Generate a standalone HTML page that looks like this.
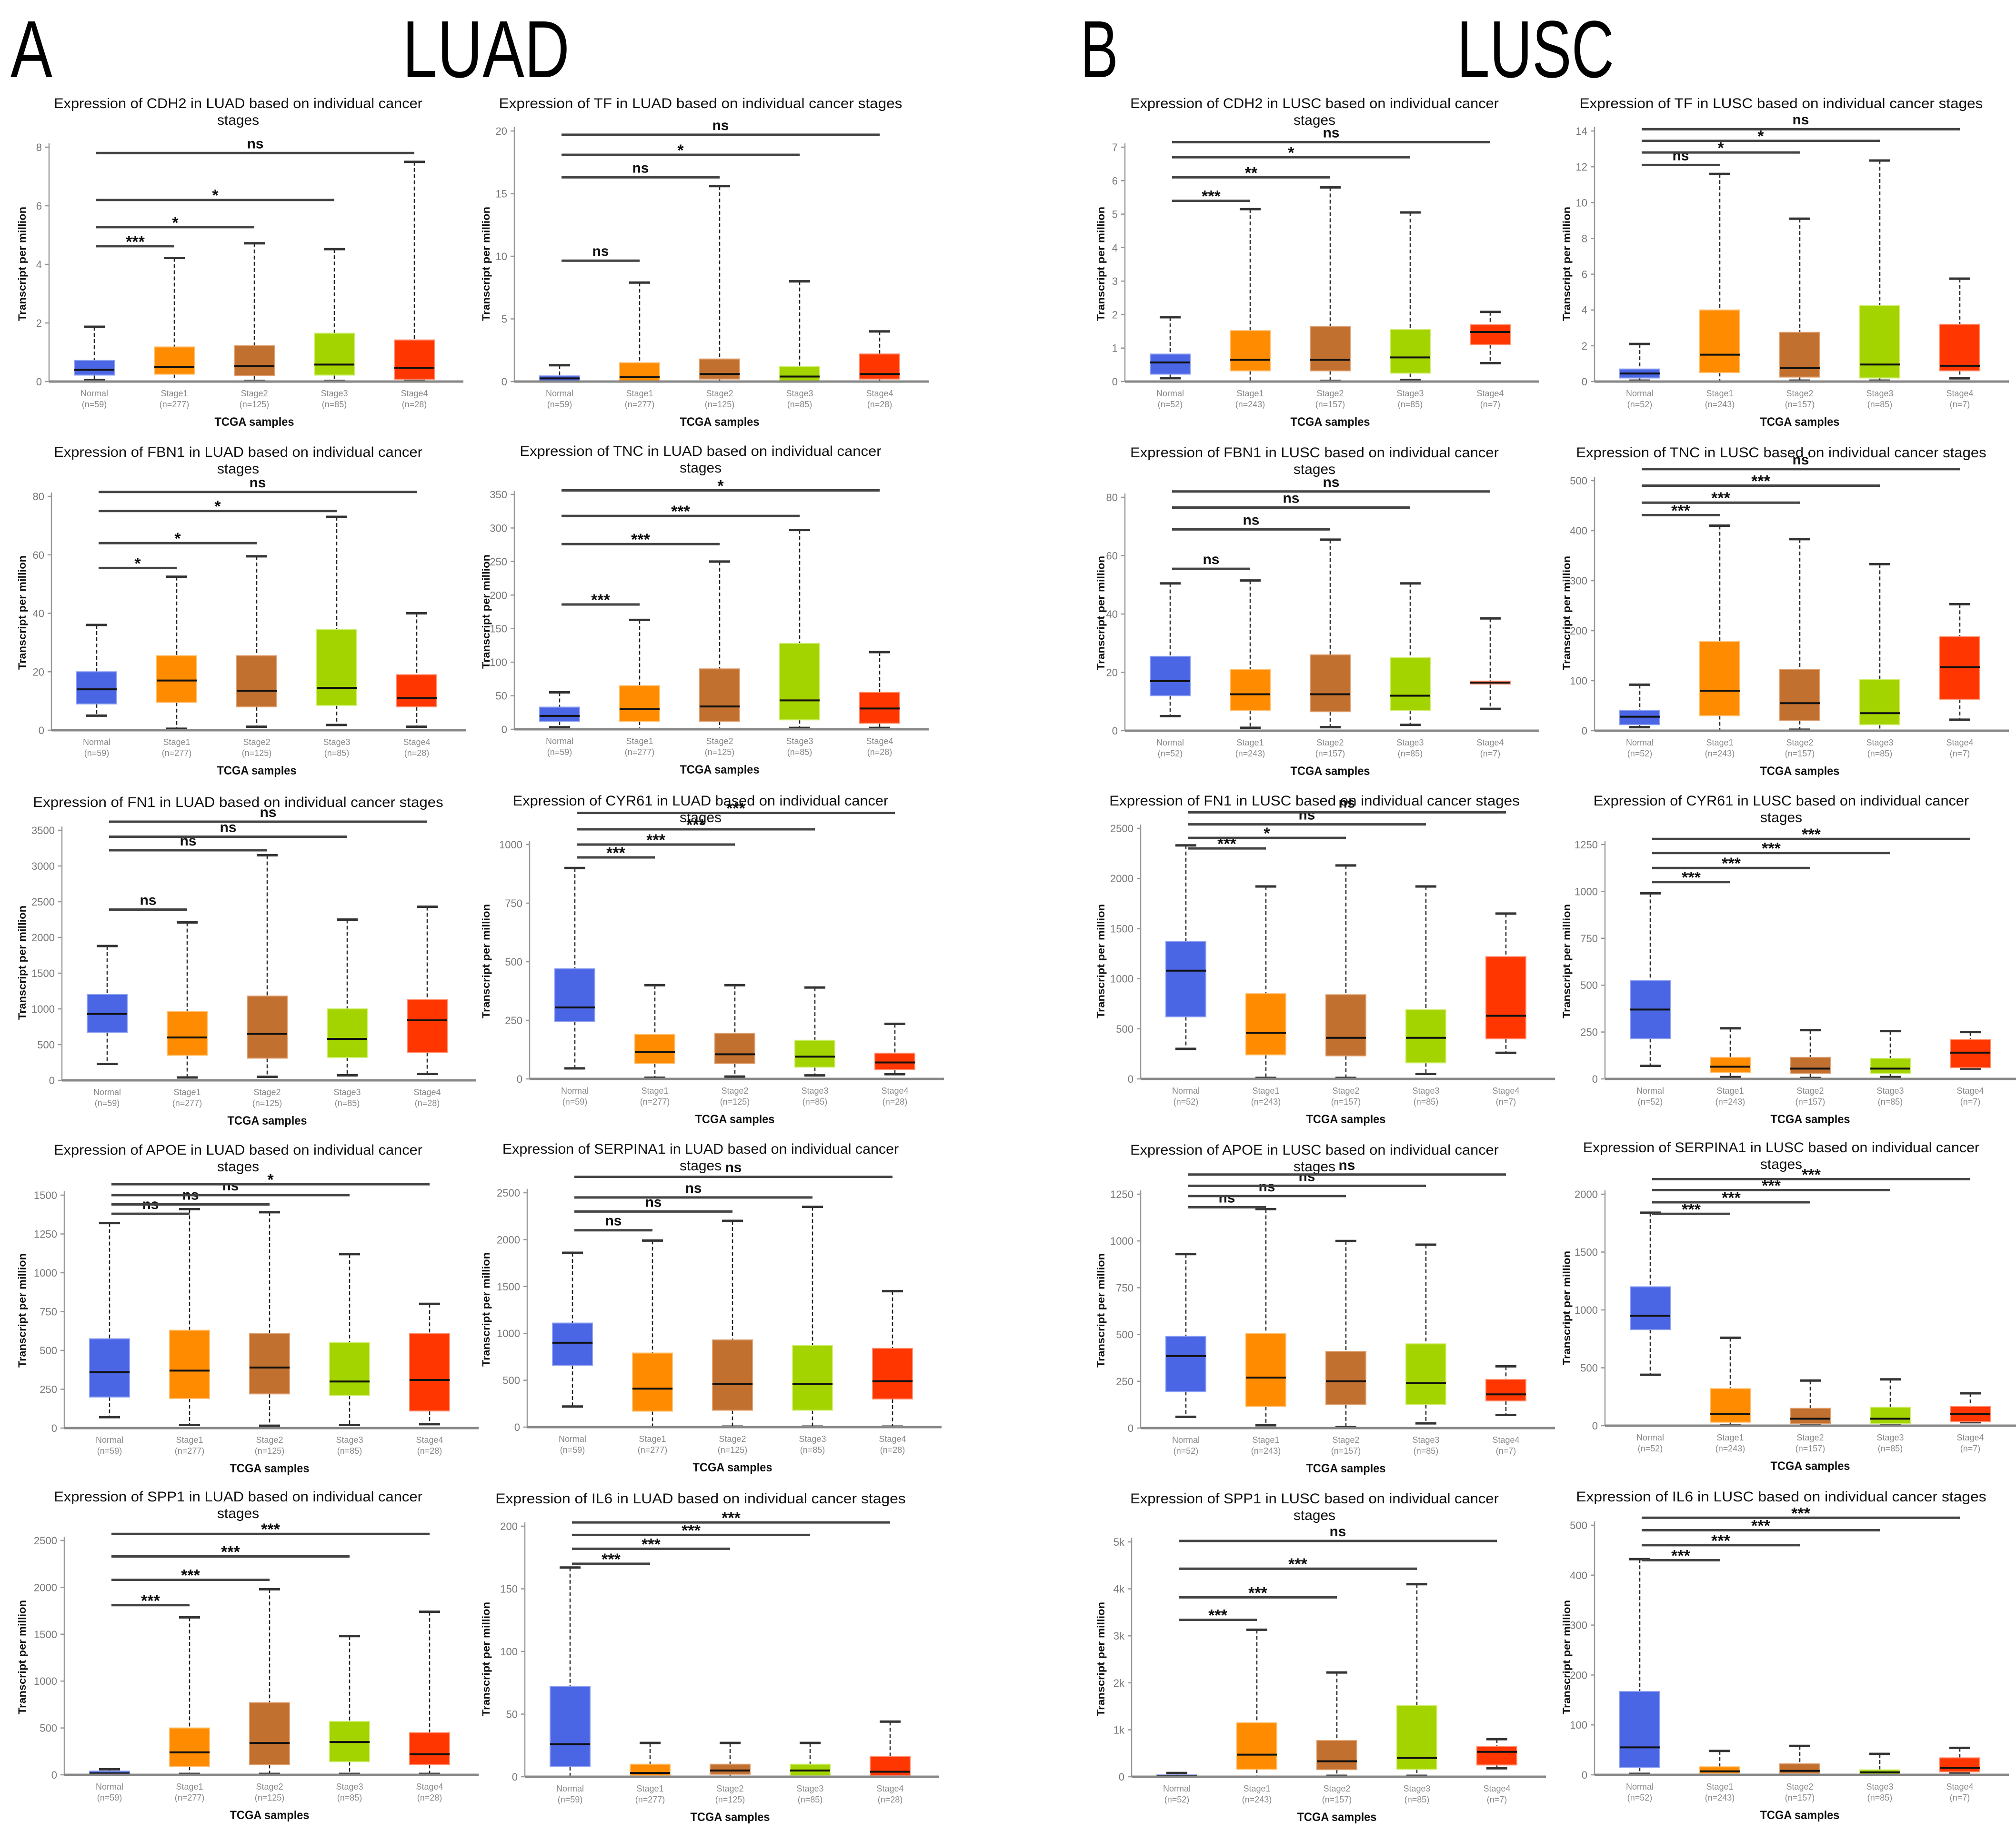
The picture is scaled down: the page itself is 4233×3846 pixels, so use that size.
<!DOCTYPE html>
<html><head><meta charset="utf-8"><style>
html,body{margin:0;padding:0;background:#fff;}
svg{display:block;font-family:"Liberation Sans",sans-serif;}
</style></head><body>
<svg id="fig" xmlns="http://www.w3.org/2000/svg" width="4233" height="3846" viewBox="0 0 4233 3846">
<rect width="4233" height="3846" fill="#fff"/>
<text x="22" y="162" font-size="170" textLength="88" lengthAdjust="spacingAndGlyphs">A</text>
<text x="845" y="162" font-size="170" textLength="351" lengthAdjust="spacingAndGlyphs">LUAD</text>
<text x="2268" y="162" font-size="170" textLength="80" lengthAdjust="spacingAndGlyphs">B</text>
<text x="3059" y="162" font-size="170" textLength="330" lengthAdjust="spacingAndGlyphs">LUSC</text>
</svg>
<script>
const titleLine1 = [
"Expression of CDH2 in LUAD based on individual cancer","Expression of TF in LUAD based on individual cancer stages","Expression of CDH2 in LUSC based on individual cancer","Expression of TF in LUSC based on individual cancer stages",
"Expression of FBN1 in LUAD based on individual cancer","Expression of TNC in LUAD based on individual cancer","Expression of FBN1 in LUSC based on individual cancer","Expression of TNC in LUSC based on individual cancer stages",
"Expression of FN1 in LUAD based on individual cancer stages","Expression of CYR61 in LUAD based on individual cancer","Expression of FN1 in LUSC based on individual cancer stages","Expression of CYR61 in LUSC based on individual cancer",
"Expression of APOE in LUAD based on individual cancer","Expression of SERPINA1 in LUAD based on individual cancer","Expression of APOE in LUSC based on individual cancer","Expression of SERPINA1 in LUSC based on individual cancer",
"Expression of SPP1 in LUAD based on individual cancer","Expression of IL6 in LUAD based on individual cancer stages","Expression of SPP1 in LUSC based on individual cancer","Expression of IL6 in LUSC based on individual cancer stages"];
const titleHasStages = [1,0,1,0, 1,1,1,0, 0,1,0,1, 1,1,1,1, 1,0,1,0];
const categories = ["Normal","Stage1","Stage2","Stage3","Stage4"];
const luadCounts = ["(n=59)","(n=277)","(n=125)","(n=85)","(n=28)"];
const luscCounts = ["(n=52)","(n=243)","(n=157)","(n=85)","(n=7)"];
const tickLabels = [
["0","2","4","6","8"],["0","5","10","15","20"],["0","1","2","3","4","5","6","7"],["0","2","4","6","8","10","12","14"],
["0","20","40","60","80"],["0","50","100","150","200","250","300","350"],["0","20","40","60","80"],["0","100","200","300","400","500"],
["0","500","1000","1500","2000","2500","3000","3500"],["0","250","500","750","1000"],["0","500","1000","1500","2000","2500"],["0","250","500","750","1000","1250"],
["0","250","500","750","1000","1250","1500"],["0","500","1000","1500","2000","2500"],["0","250","500","750","1000","1250"],["0","500","1000","1500","2000"],
["0","500","1000","1500","2000","2500"],["0","50","100","150","200"],["0","1k","2k","3k","4k","5k"],["0","100","200","300","400","500"]];
const tickValues = [
[0,2,4,6,8],[0,5,10,15,20],[0,1,2,3,4,5,6,7],[0,2,4,6,8,10,12,14],
[0,20,40,60,80],[0,50,100,150,200,250,300,350],[0,20,40,60,80],[0,100,200,300,400,500],
[0,500,1000,1500,2000,2500,3000,3500],[0,250,500,750,1000],[0,500,1000,1500,2000,2500],[0,250,500,750,1000,1250],
[0,250,500,750,1000,1250,1500],[0,500,1000,1500,2000,2500],[0,250,500,750,1000,1250],[0,500,1000,1500,2000],
[0,500,1000,1500,2000,2500],[0,50,100,150,200],[0,1000,2000,3000,4000,5000],[0,100,200,300,400,500]];
const q1Vals = [
[.22,.25,.2,.22,.08],[.05,.05,.2,.02,.2],[.22,.32,.32,.25,1.1],[.2,.5,.25,.2,.6],
[9,9.5,8,8.5,8],[12,12,12,14,9],[12,7,6.5,7,16],[12,30,20,12,63],
[670,350,310,320,390],[245,65,65,50,40],[620,240,230,160,400],[215,35,30,30,60],
[200,190,220,210,110],[660,170,180,180,300],[195,115,125,125,145],[830,30,20,20,35],
[5,90,110,140,110],[8,1,2,1,1],[0,160,150,160,250],[15,3,3,1,6]];
const medVals = [
[.4,.5,.53,.58,.47],[.25,.35,.6,.4,.6],[.57,.65,.65,.72,1.48],[.45,1.5,.75,.95,.88],
[14,17,13.5,14.5,11],[20,30,34,43,31],[17,12.5,12.5,12,16.5],[28,80,55,35,127],
[930,600,650,580,840],[305,115,105,95,70],[1080,460,410,410,630],[370,65,55,55,140],
[360,370,390,300,310],[900,410,460,460,490],[385,270,250,240,180],[950,100,60,60,100],
[15,240,340,350,220],[26,3,5,5,4],[20,470,330,400,530],[55,7,8,5,14]];
const q3Vals = [
[.72,1.18,1.22,1.65,1.42],[.45,1.5,1.8,1.2,2.2],[.82,1.52,1.65,1.55,1.7],[.7,4,2.75,4.25,3.2],
[20,25.5,25.5,34.5,19],[33,65,90,128,55],[25.5,21,26,25,17],[40,178,122,102,188],
[1200,960,1180,1000,1130],[470,190,195,165,110],[1370,850,840,690,1220],[525,115,115,110,210],
[575,630,610,550,610],[1110,790,930,870,840],[490,505,410,450,260],[1200,320,150,160,165],
[40,500,770,570,450],[72,10,10,10,16],[40,1150,770,1520,640],[167,16,22,10,34]];
const loVals = [
[.05,0,.02,.02,.02],[0,0,0,0,0],[.1,0,.02,.05,.55],[.05,0,.05,.05,.18],
[5,.5,1.2,1.8,1.2],[3,0,0,2,2],[5,1,1.2,2,7.5],[7,0,2,0,22],
[230,40,50,70,90],[45,5,10,15,20],[300,10,10,50,260],[70,10,5,10,55],
[70,20,15,20,25],[220,0,5,5,5],[60,15,5,25,70],[440,5,5,5,30],
[5,10,10,10,10],[0,0,0,0,0],[0,0,20,20,180],[2,1,1,0,3]];
const hiVals = [
[1.87,4.22,4.72,4.52,7.5],[1.3,7.9,15.6,8,4],[1.92,5.15,5.8,5.05,2.08],[2.1,11.6,9.1,12.35,5.75],
[36,52.5,59.5,73,40],[55,163,250,297,115],[50.5,51.5,65.5,50.5,38.5],[92,410,383,333,253],
[1880,2210,3150,2250,2430],[900,400,400,390,235],[2330,1920,2130,1920,1650],[990,270,260,255,250],
[1320,1410,1390,1120,800],[1860,1990,2200,2350,1450],[930,1170,1000,980,330],[1840,760,390,400,280],
[60,1680,1980,1480,1740],[167,27,27,27,44],[80,3130,2220,4100,800],[432,48,58,42,54]];
const sigLabels = [
["***","*","*","ns"],["ns","ns","*","ns"],["***","**","*","ns"],["ns","*","*","ns"],
["*","*","*","ns"],["***","***","***","*"],["ns","ns","ns","ns"],["***","***","***","ns"],
["ns","ns","ns","ns"],["***","***","***","***"],["***","*","ns","ns"],["***","***","***","***"],
["ns","ns","ns","*"],["ns","ns","ns","ns"],["ns","ns","ns","ns"],["***","***","***","***"],
["***","***","***","***"],["***","***","***","***"],["***","***","***","ns"],["***","***","***","***"]];
const sigLevels = [
[4.62,5.27,6.2,7.8],[9.65,16.3,18.1,19.7],[5.4,6.1,6.7,7.15],[12.1,12.8,13.45,14.1],
[55.5,64,75,81.5],[186,276,318,356],[55.5,69,76.5,82],[431,456,490,523],
[2390,3220,3410,3620],[945,1000,1065,1135],[2300,2405,2540,2660],[1050,1125,1205,1280],
[1380,1440,1500,1570],[2100,2300,2450,2670],[1180,1240,1295,1355],[1830,1930,2035,2130],
[1810,2080,2330,2570],[170,182,193,203],[3340,3820,4430,5020],[430,460,490,515]];
// layout (pixels): axis x, zero y, top-tick y per panel
const axisXs = [103,1080,2362,3348, 108,1080,2362,3348, 130,1112,2395,3370, 135,1107,2395,3370, 135,1102,2376,3348];
const zeroYs = [801,801,801,801, 1533,1531,1534,1534, 2268,2265,2265,2265, 2998,2996,2998,2993, 3726,3730,3730,3726];
const topYs  = [309,275,309,275, 1042,1038,1044,1009, 1743,1773,1739,1773, 2509,2504,2507,2507, 3234,3204,3237,3202];
const titleXs = [500,1471,2760,3740];
const yLabelXs = [46,1020,2311,3289];
const boxColors = ["#4a66e5","#ff8c00","#c2702f","#a3d400","#ff3600"];
const boxEdge = ["#8fa0f0","#ffc070","#e0a070","#d0ee70","#ff9070"];

const svg = document.getElementById('fig');
const NS = "http://www.w3.org/2000/svg";
function mk(tag, attrs, parent){
  const e = document.createElementNS(NS, tag);
  for (const k in attrs) e.setAttribute(k, attrs[k]);
  (parent||svg).appendChild(e);
  return e;
}
for (let p = 0; p < 20; p++) {
  const g = mk('g', {});
  
  
  const ax = axisXs[p], zy = zeroYs[p], ty = topYs[p];
  const tv = tickValues[p], topVal = tv[tv.length-1];
  const yS = v => zy - (v/topVal)*(zy-ty);
  const xS = i => ax + 95 + i*168;
  const col = p % 4;
  const isLusc = col >= 2;
  const tx = titleXs[col];
  const t1 = mk('text', {x:tx, y:zy-574, 'font-size':30, 'text-anchor':'middle', fill:'#111', textLength: titleLine1[p].length*14.6, lengthAdjust:'spacingAndGlyphs'}, g);
  t1.textContent = titleLine1[p];
  
  
  if (titleHasStages[p]) {
    const t2 = mk('text', {x:tx, y:zy-539, 'font-size':30, 'text-anchor':'middle', fill:'#111', textLength:88, lengthAdjust:'spacingAndGlyphs'}, g);
    t2.textContent = 'stages';
    
    
  }
  const yl = mk('line', {x1:ax, x2:ax, y1:zy, y2:ty-8, stroke:'#999', 'stroke-width':2.5}, g);
  
  
  tv.forEach((v, k) => {
    const yy = yS(v);
    const tk = mk('line', {x1:ax-8, x2:ax, y1:yy, y2:yy, stroke:'#999', 'stroke-width':2.5}, g);
    
    
    const tl = mk('text', {x:ax-15, y:yy+8, 'font-size':22, 'text-anchor':'end', fill:'#777'}, g);
    tl.textContent = tickLabels[p][k];
    
    
  });
  const ylab = mk('text', {x:0, y:0, 'font-size':22, 'font-weight':'bold', 'text-anchor':'middle', fill:'#111', transform:`translate(${yLabelXs[col]+8},${zy-247}) rotate(-90)`, textLength:240, lengthAdjust:'spacingAndGlyphs'}, g);
  ylab.textContent = 'Transcript per million';
  
  
  for (let i = 0; i < 5; i++) {
    const cx = xS(i);
    const bg = mk('g', {}, g);
    
    
    const yHi = yS(hiVals[p][i]), yLo = yS(loVals[p][i]), yQ3 = yS(q3Vals[p][i]), yQ1 = yS(q1Vals[p][i]), yMed = yS(medVals[p][i]);
    mk('line', {x1:cx, x2:cx, y1:yHi, y2:yQ3, stroke:'#222', 'stroke-width':2.5, 'stroke-dasharray':'8 5'}, bg);
    mk('line', {x1:cx, x2:cx, y1:yQ1, y2:yLo, stroke:'#222', 'stroke-width':2.5, 'stroke-dasharray':'8 5'}, bg);
    mk('line', {x1:cx-22, x2:cx+22, y1:yHi, y2:yHi, stroke:'#333', 'stroke-width':5}, bg);
    mk('line', {x1:cx-22, x2:cx+22, y1:yLo, y2:yLo, stroke:'#333', 'stroke-width':5}, bg);
    mk('rect', {x:cx-42, y:yQ3, width:84, height:Math.max(yQ1-yQ3,2), fill:boxColors[i], stroke:boxEdge[i], 'stroke-width':2}, bg);
    mk('line', {x1:cx-42, x2:cx+42, y1:yMed, y2:yMed, stroke:'#111', 'stroke-width':4}, bg);
    const c1 = mk('text', {x:cx, y:zy+31, 'font-size':18, 'text-anchor':'middle', fill:'#888'}, g);
    c1.textContent = categories[i];
    
    
    const c2 = mk('text', {x:cx, y:zy+54, 'font-size':18, 'text-anchor':'middle', fill:'#888'}, g);
    c2.textContent = (isLusc ? luscCounts : luadCounts)[i];
    
    
  }
  const xl = mk('line', {x1:ax, x2:ax+870, y1:zy, y2:zy, stroke:'#888', 'stroke-width':5}, g);
  
  
  const xt = mk('text', {x:xS(2), y:zy+93, 'font-size':25, 'font-weight':'bold', 'text-anchor':'middle', fill:'#111', textLength:167, lengthAdjust:'spacingAndGlyphs'}, g);
  xt.textContent = 'TCGA samples';
  
  
  for (let s = 0; s < 4; s++) {
    const yy = yS(sigLevels[p][s]);
    const x1 = xS(0) + 4, x2 = xS(s+1);
    const sb = mk('line', {x1:x1, x2:x2, y1:yy, y2:yy, stroke:'#444', 'stroke-width':5}, g);
    
    
    const lab = sigLabels[p][s];
    const sl = mk('text', {x:(x1+x2)/2, y: lab === 'ns' ? yy-10 : yy+2, 'font-size': lab === 'ns' ? 30 : 34, 'font-weight':'bold', 'text-anchor':'middle', fill:'#111'}, g);
    sl.textContent = lab;
    
    
  }
}
</script>
</body></html>
